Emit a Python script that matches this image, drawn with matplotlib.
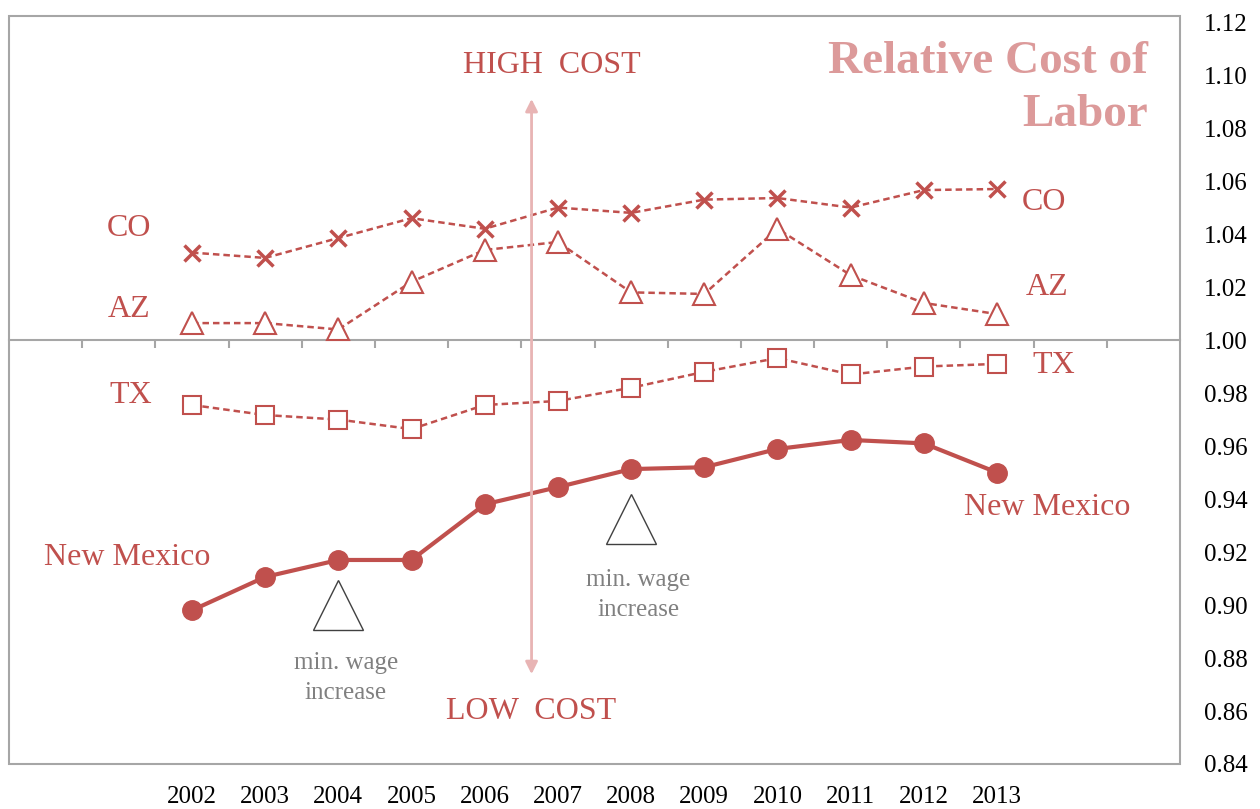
import matplotlib
matplotlib.use("Agg")
import matplotlib.pyplot as plt
from matplotlib.patches import Rectangle

plt.rcParams['font.family'] = ['Liberation Serif', 'DejaVu Serif']

years = [2002, 2003, 2004, 2005, 2006, 2007, 2008, 2009, 2010, 2011, 2012, 2013]
co = [1.033, 1.031, 1.0385, 1.046, 1.042, 1.050, 1.048, 1.053, 1.0536, 1.050, 1.0566, 1.057]
az = [1.0064, 1.0064, 1.004, 1.022, 1.034, 1.037, 1.018, 1.0174, 1.042, 1.0245, 1.014, 1.0098]
tx = [0.9755, 0.9717, 0.970, 0.9664, 0.9755, 0.977, 0.982, 0.988, 0.9932, 0.987, 0.990, 0.991]
nm = [0.898, 0.9106, 0.917, 0.917, 0.938, 0.9445, 0.9513, 0.952, 0.9589, 0.9623, 0.961, 0.950]
wage_years = [2004, 2008]
wage_marks = [0.8999, 0.9323]
wage_text_y = [0.8724, 0.9037]
y_ticks = [0.84, 0.86, 0.88, 0.90, 0.92, 0.94, 0.96, 0.98, 1.00, 1.02, 1.04, 1.06, 1.08, 1.10, 1.12]

red = '#c0504d'
gray_frame = '#a6a6a6'

def createPlot():
    fig = plt.figure(figsize=(12.6, 8.09), dpi=100)
    ax = fig.add_axes([9 / 1260, 1 - 764 / 809, (1180 - 9) / 1260, (764 - 16) / 809])
    ax.set_xlim(1999.5, 2015.5)
    ax.set_ylim(0.84, 1.1223)

    dash = (0, (2.6, 1.6))
    ax.plot(years, co, color=red, lw=1.8, linestyle=dash, marker='x', ms=11, mew=2.5, zorder=3)
    ax.plot(years, az, color=red, lw=1.8, linestyle=dash, marker='^', ms=16, mew=1.5,
            mfc='white', zorder=3)
    ax.plot(years, tx, color=red, lw=1.8, linestyle=dash, marker='s', ms=13, mew=1.5,
            mfc='white', zorder=3)
    ax.plot(years, nm, color=red, lw=3, marker='o', ms=14, zorder=3)

    # min wage markers
    ax.plot(wage_years, wage_marks, linestyle='none', marker='^', ms=36, mew=1,
            mfc='none', mec='#404040', zorder=2)
    for x, y in zip(wage_years, wage_text_y):
        ax.text(x + 0.1, y, "min. wage\nincrease", ha='center', va='center', fontsize=18,
                color='#808080', linespacing=1.5)

    # series labels
    lab = dict(color=red, fontsize=23, ha='center', va='center')
    ax.text(2001.14, 1.042, "CO", **lab)
    ax.text(2001.14, 1.0115, "AZ", **lab)
    ax.text(2001.17, 0.979, "TX", **lab)
    ax.text(2001.11, 0.918, "New Mexico", **lab)
    ax.text(2013.64, 1.0518, "CO", **lab)
    ax.text(2013.68, 1.0198, "AZ", **lab)
    ax.text(2013.78, 0.9904, "TX", **lab)
    ax.text(2013.68, 0.9369, "New Mexico", **lab)
    ax.text(2006.92, 1.1038, "HIGH  COST", **lab)
    ax.text(2006.64, 0.860, "LOW  COST", **lab)

    ax.annotate("", xy=(2006.64, 1.091), xytext=(2006.64, 0.8739),
                arrowprops=dict(arrowstyle='<|-|>', color='#e8b4b4', lw=2,
                                mutation_scale=18, shrinkA=0, shrinkB=0))

    ax.text(0.9727, 0.966, "Relative Cost of\nLabor", transform=ax.transAxes,
            ha='right', va='top', multialignment='right', fontsize=34,
            fontweight='bold', color='#dc9a9a', linespacing=1.32)

    # axes styling
    for side in ['top', 'left', 'right']:
        ax.spines[side].set_visible(False)
    ax.spines['bottom'].set_position(('data', 1.0))
    ax.spines['bottom'].set_color(gray_frame)
    ax.spines['bottom'].set_linewidth(1.5)
    ax.add_patch(Rectangle((0, 0), 1, 1, transform=ax.transAxes, fill=False,
                           edgecolor=gray_frame, lw=1.5, clip_on=False, zorder=1))
    ax.set_xticks([2000.5 + i for i in range(15)])
    ax.tick_params(axis='x', direction='out', length=6, width=1.5, color=gray_frame,
                   labelbottom=False)
    for y in years:
        ax.text(y, -0.044, str(y), transform=ax.get_xaxis_transform(), ha='center',
                va='center', fontsize=18)

    ax.yaxis.tick_right()
    ax.set_yticks(y_ticks)
    ax.set_yticklabels(["%.2f" % v for v in y_ticks])
    ax.tick_params(axis='y', length=0, pad=17, labelsize=18)

    fig.savefig("out.png", dpi=100)

def main():
    createPlot()

if __name__ == "__main__":
    main()
